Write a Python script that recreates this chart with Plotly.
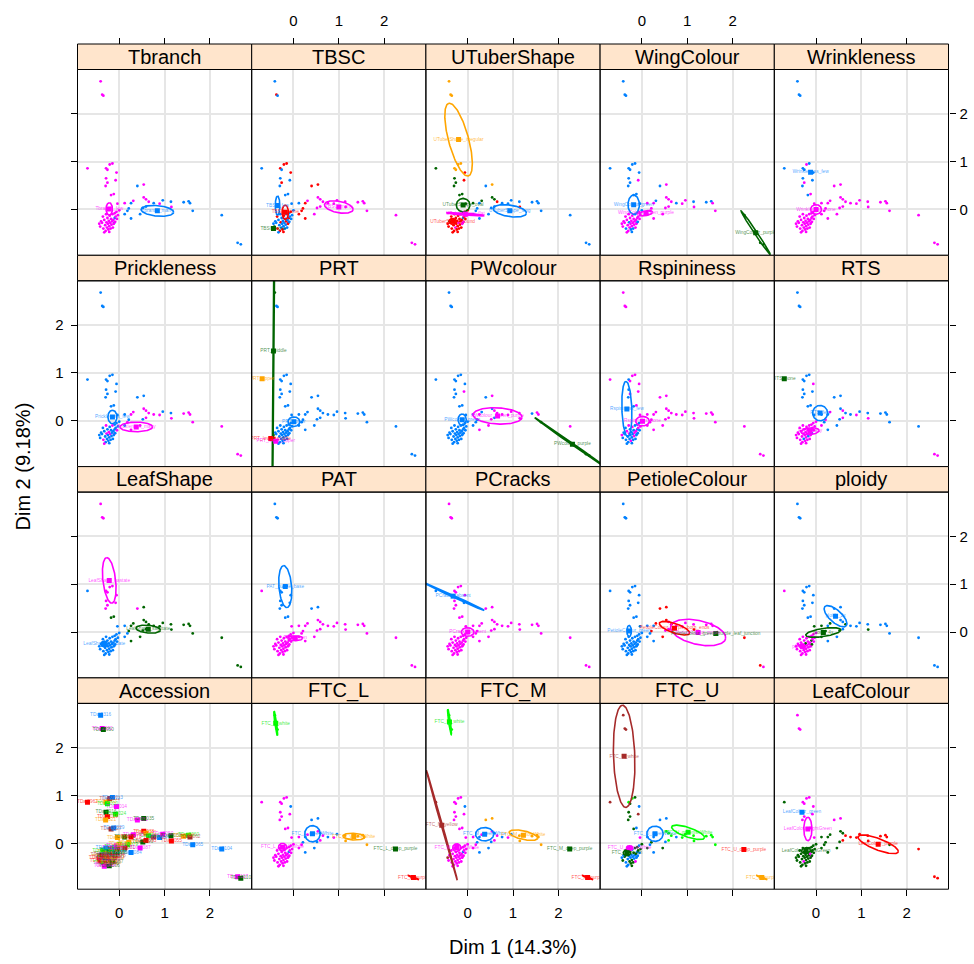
import numpy as np
import plotly.graph_objects as go

W, H = 974, 964

# ---------------- individuals (MCA coordinates, Dim 1 / Dim 2) ----------------
T_x = [-0.41, -0.375, -0.35]
T_y = [2.68, 2.40, 2.38]
L_x = [-0.70, -0.29, -0.26, -0.21, -0.15, -0.06, -0.29, -0.26, -0.30, -0.08, -0.18, -0.12]
L_y = [0.86, 0.86, 0.83, 0.94, 0.96, 0.77, 0.65, 0.56, 0.49, 0.61, 0.30, 0.32]
M_x = [0.40, 0.54, 0.54, 0.59, 0.65, 0.76, 0.89, 0.96, 1.14, 1.15, 1.42, 1.53, 1.56, 1.62,
       0.31, 0.12, 0.26, 0.21, 0.18, 0.12, 0.26, 0.46, 0.52, 0.59, -0.04, -0.10, -0.11]
M_y = [0.49, 0.52, 0.25, 0.21, 0.16, 0.13, 0.12, 0.19, 0.16, 0.05, 0.15, 0.17, 0.13, -0.03,
       0.18, 0.13, 0.13, 0.02, -0.03, -0.10, -0.19, -0.10, 0.03, 0.06, 0.12, -0.18, -0.28]
R_x = [2.26, 2.61, 2.68]
R_y = [-0.12, -0.70, -0.73]
C_x = [-0.42, -0.38, -0.35, -0.33, -0.31, -0.30, -0.28, -0.27, -0.26, -0.25, -0.24, -0.23,
       -0.22, -0.21, -0.20, -0.19, -0.18, -0.17, -0.16, -0.15, -0.14, -0.13, -0.12, -0.10,
       -0.09, -0.08, -0.06, -0.05, -0.03, 0.00, -0.36, -0.40, -0.29, -0.33, -0.22, -0.44]
C_y = [-0.36, -0.28, -0.40, -0.22, -0.33, -0.45, -0.27, -0.38, -0.18, -0.30, -0.42, -0.24,
       -0.35, -0.13, -0.28, -0.40, -0.20, -0.32, -0.25, -0.10, -0.38, -0.22, -0.30, -0.08,
       -0.26, -0.15, -0.05, -0.20, -0.12, -0.02, -0.15, -0.25, -0.10, -0.48, -0.47, -0.30]

ind_x = T_x + L_x + M_x + R_x + C_x
ind_y = T_y + L_y + M_y + R_y + C_y
N = len(ind_x)

acc_num = [1316, 2952, 2950, 2962, 3002, 3010, 3012, 3013, 3014, 3016, 3019, 3021, 3024, 3027,
           3029, 3031, 3035, 3038, 3040, 3043, 3045, 3047, 3050, 3052, 3055, 3058, 3060, 3062,
           3065, 3068, 3070, 3073, 3076, 3079, 3081, 3084, 3087, 3090, 3093, 3095, 3098, 3101,
           3104, 3107, 3110, 3112, 3115, 3118, 3120, 3123, 3126, 3129, 3131, 3134, 3137, 3140,
           3142, 3145, 3148, 3150, 3153, 3156, 3159, 3161, 3164, 3167, 3170, 3172, 3175, 3178,
           3181, 3183, 3186, 3189, 3192, 3194, 3197, 3200, 3203, 3206, 3209, 3212, 3215]

palette = ["#0080FF", "#FF00FF", "#006400", "#FF0000", "#FFA500", "#00FF00", "#A52A2A"]
palette_faded = ["rgba(0,128,255,0.7)", "rgba(255,0,255,0.7)", "rgba(0,100,0,0.7)",
                 "rgba(255,0,0,0.7)", "rgba(255,165,0,0.75)", "rgba(0,230,0,0.75)",
                 "rgba(165,42,42,0.7)"]

# category code of each individual (groups: T L M R C), digit = level index
Tbranch_codes = "111 111111111111 011110100100001100000000100 000 111111 111111 111111 111111 111111 111111"
TBSC_codes = "030 030333030000 331111111111111033333111030 111 203003 300030 030000 300030 003000 300030"
UTuberShape_codes = "444 244443222322 042230000300002200000000203 000 333133 313333 331333 333313 133333 323333"
WingColour_codes = "000 000000000100 011110110100110111111111010 222 110111 011101 111011 101111 011110 111101"
Wrinkleness_codes = "000 000100010001 111111111111111111111111111 111 111111 111111 111111 111111 111111 111111"
Prickleness_codes = "000 000000000000 001111100111111010101101001 111 001000 100001 001000 010000 000100 001100"
PRT_codes = "200 400000000000 000000000000000000000000000 000 301000 000000 000000 000000 000000 000002"
PWcolour_codes = "000 000000000100 010111111101120010001110000 122 000000 000000 000000 000000 000000 000000"
Rspininess_codes = "111 101111010101 111111111111111111111111100 111 000100 100010 010001 100100 010010 001001"
RTS_codes = "000 200001000000 000100100100001001010001011 011 111111 101111 111110 111111 011111 111111"
LeafShape_codes = "111 011111111122 122222222222222022002222000 222 000000 000000 000000 000000 000000 000000"
PAT_codes = "000 100000000000 001111111111111111111111111 111 111111 111111 111111 111111 111111 111111"
PCracks_codes = "111 011111111011 111111111111111111111111111 111 111111 111111 111111 111111 111111 111111"
PetioleColour_codes = "000 000000000000 333131111311123003000311000 331 000000 000000 000000 000000 000000 000000"
ploidy_codes = "000 100000000000 000020000200002202220020221 000 111111 111112 111111 111111 211111 111111"
FTC_L_codes = "555 111110111111 001010104444441100110001101 233 111111 111111 111111 111111 111111 111111"
FTC_M_codes = "555 611110111111 441010104444441100110001101 233 111111 111111 111111 111111 111111 111116"
FTC_U_codes = "666 652520222620 005550555555552002020205100 344 220200 022020 200220 021202 020022 202020"
LeafColour_codes = "111 211111011111 112233333333322222222223121 333 222222 212222 222222 222122 222222 222222"

# levels: (label, centroid x, centroid y, semi-axis a, semi-axis b, angle deg); index = colour
Tbranch_levels = [("Tbranch_many", 0.84, -0.03, 0.36, 0.11, -5),
                  ("Tbranch_few", -0.22, 0.01, 0.13, 0.07, 90)]
TBSC_levels = [("TBSC_few", -0.35, 0.08, 0.20, 0.05, 90),
               ("TBSC_many", 1.00, 0.05, 0.32, 0.12, -10),
               ("TBSC_none", -0.44, -0.40, 0, 0, 0),
               ("TBSC_some", -0.18, -0.06, 0.15, 0.07, 90)]
UTuberShape_levels = [("UTuberShape_long", 0.93, -0.03, 0.37, 0.12, -8),
                      ("UTuberShape_flat", -0.05, -0.10, 0.42, 0.02, -4),
                      ("UTuberShape_oval", -0.10, 0.09, 0.15, 0.14, 0),
                      ("UTuberShape_round", -0.33, -0.25, 0.08, 0.06, 0),
                      ("UTuberShape_irregular", -0.20, 1.46, 0.79, 0.22, 106)]
WingColour_levels = [("WingColour_green", -0.18, 0.10, 0.20, 0.125, 90),
                     ("WingColour_green_purple", 0.09, -0.08, 0.15, 0.05, 10),
                     ("WingColour_purple", 2.51, -0.49, 0.56, 0.03, -55)]
Wrinkleness_levels = [("Wrinkleness_few", -0.12, 0.78, 0, 0, 0),
                      ("Wrinkleness_none", 0.00, 0.00, 0.12, 0.10, 0)]
Prickleness_levels = [("Prickleness_few", -0.15, 0.08, 0.14, 0.10, 90),
                      ("Prickleness_many", 0.375, -0.13, 0.36, 0.10, 0)]
PRT_levels = [("PRT_lower", 0.01, -0.02, 0.13, 0.10, 0),
              ("PRT_lower_upper", -0.39, -0.43, 0, 0, 0),
              ("PRT_middle", -0.44, 1.46, 3.2, 0.012, 89.5),
              ("PRT_lower_middle", -0.50, -0.37, 0, 0, 0),
              ("PRT_upper", -0.69, 0.88, 0, 0, 0)]
PWcolour_levels = [("PWcolour_green", -0.12, 0.02, 0.12, 0.09, 90),
                   ("PWcolour_Green_purple", 0.66, 0.10, 0.54, 0.17, -3),
                   ("PWcolour_purple", 2.31, -0.49, 1.0, 0.02, -33.7)]
Rspininess_levels = [("Rspininess_few", -0.33, 0.245, 0.58, 0.11, 92),
                     ("Rspininess_none", 0.015, -0.01, 0.15, 0.10, 0)]
RTS_levels = [("RTS_few", 0.09, 0.16, 0.165, 0.16, 0),
              ("RTS_many", -0.13, -0.22, 0.20, 0.07, 5),
              ("RTS_none", -0.70, 0.88, 0, 0, 0)]
LeafShape_levels = [("LeafShape_cordate", -0.33, -0.25, 0.07, 0.06, 0),
                    ("LeafShape_hastate", -0.22, 1.08, 0.48, 0.14, 97),
                    ("LeafShape_sagittate", 0.64, 0.06, 0.27, 0.08, -5)]
PAT_levels = [("PAT_purple_base", -0.18, 0.95, 0.44, 0.14, 95),
              ("PAT_green", 0.04, -0.13, 0.165, 0.05, 0)]
PCracks_levels = [("PCracks_absent", -0.32, 0.75, 0.75, 0.02, -23.5),
                  ("PCracks_present", 0.00, 0.00, 0.14, 0.09, 0)]
PetioleColour_levels = [("PetioleColour_green", -0.28, 0.02, 0.12, 0.05, 90),
                        ("PetioleColour_purple", 1.24, -0.01, 0.62, 0.25, -12),
                        ("PetioleColour_green_purple_leaf_junction", 1.63, -0.03, 0, 0, 0),
                        ("PetioleColour_purple_both_ends", 0.72, 0.08, 0.35, 0.10, -18)]
ploidy_levels = [("ploidy_2x", 0.43, 0.33, 0.31, 0.13, -40),
                 ("ploidy_3x", -0.30, -0.30, 0.06, 0.05, 0),
                 ("ploidy_4x", 0.16, -0.01, 0.39, 0.085, 8)]
FTC_L_levels = [("FTC_L_greenWhite", 0.42, 0.20, 0.17, 0.17, 0),
                ("FTC_L_purpleWhite", -0.24, -0.08, 0.09, 0.08, 0),
                ("FTC_L_deep_purple", 2.25, -0.12, 0, 0, 0),
                ("FTC_L_purple", 2.645, -0.715, 0.13, 0.01, -21),
                ("FTC_L_yellowWhite", 1.33, 0.14, 0.24, 0.07, -3),
                ("FTC_L_white", -0.39, 2.51, 0.26, 0.02, 98)]
FTC_M_levels = [("FTC_M_greenWhite", 0.375, 0.19, 0.20, 0.14, 0),
                ("FTC_M_purpleWhite", -0.24, -0.09, 0.09, 0.08, 0),
                ("FTC_M_deep_purple", 2.25, -0.12, 0, 0, 0),
                ("FTC_M_purple", 2.645, -0.715, 0.13, 0.01, -21),
                ("FTC_M_yellowWhite", 1.23, 0.17, 0.32, 0.09, -12),
                ("FTC_M_white", -0.40, 2.54, 0.27, 0.02, 98),
                ("FTC_M_yellow", -0.57, 0.38, 1.2, 0.015, 106.5)]
FTC_U_levels = [("FTC_U_greenWhite", 0.29, 0.20, 0.18, 0.16, 0),
                ("FTC_U_purpleWhite", -0.27, -0.10, 0.07, 0.05, 0),
                ("FTC_U_green", -0.33, -0.20, 0.08, 0.06, 0),
                ("FTC_U_deep_purple", 2.25, -0.13, 0, 0, 0),
                ("FTC_U_purple", 2.645, -0.715, 0.13, 0.01, -21),
                ("FTC_U_greenishWhite", 1.02, 0.23, 0.38, 0.10, -18),
                ("FTC_U_white", -0.39, 1.82, 1.07, 0.235, 92)]
LeafColour_levels = [("LeafColour_green", -0.31, 0.65, 0, 0, 0),
                     ("LeafColour_lightGreen", -0.18, 0.30, 0.245, 0.09, 90),
                     ("LeafColour_darkGreen", -0.22, -0.15, 0.10, 0.06, 10),
                     ("LeafColour_purple", 1.37, -0.02, 0.47, 0.12, -20)]

panel_names = ["Tbranch", "TBSC", "UTuberShape", "WingColour", "Wrinkleness",
               "Prickleness", "PRT", "PWcolour", "Rspininess", "RTS",
               "LeafShape", "PAT", "PCracks", "PetioleColour", "ploidy",
               "Accession", "FTC_L", "FTC_M", "FTC_U", "LeafColour"]

g = globals()

# ---------------- layout geometry ----------------
col_edges = [77.5, 251.7, 425.9, 600.1, 774.3, 948.5]
row_top0, row_h, strip_h = 44.0, 211.3, 25.5
XR = [-0.92, 2.92]
YR = [-0.96, 2.927]
FONT = "Liberation Sans, Arial, Helvetica, sans-serif"
GRID = "#E6E6E6"
LABEL_SIZE = 4.8

fig = go.Figure()
layout = dict(width=W, height=H, margin=dict(l=0, r=0, t=0, b=0),
              paper_bgcolor="white", plot_bgcolor="white", showlegend=False,
              font=dict(family=FONT, color="black"))
shapes, annotations = [], []
tt = np.linspace(0, 2 * np.pi, 160)

for k, name in enumerate(panel_names):
    r, c = divmod(k, 5)
    n = k + 1
    xa = "x" if n == 1 else f"x{n}"
    ya = "y" if n == 1 else f"y{n}"
    st = row_top0 + r * row_h
    pt = st + strip_h
    pb = st + row_h
    ph = pb - pt

    xax = dict(domain=[col_edges[c] / W, col_edges[c + 1] / W], range=XR, anchor=ya,
               tickvals=[0, 1, 2], showgrid=True, gridcolor=GRID, gridwidth=1.5,
               zeroline=False, showline=False, ticks="", showticklabels=False,
               tickfont=dict(size=15, family=FONT), fixedrange=True)
    if r == 3:
        xax.update(side="bottom", ticks="outside", ticklen=6, tickcolor="black",
                   showticklabels=(c % 2 == 0), ticklabelstandoff=4)
    if r == 0:
        xax.update(side="top", anchor="free", position=1 - st / H, ticks="outside",
                   ticklen=6, tickcolor="black", showticklabels=(c % 2 == 1),
                   ticklabelstandoff=6)
    yax = dict(domain=[1 - pb / H, 1 - pt / H], range=YR, anchor=xa,
               tickvals=[0, 1, 2], showgrid=True, gridcolor=GRID, gridwidth=1.5,
               zeroline=False, showline=False, ticks="", showticklabels=False,
               tickfont=dict(size=15, family=FONT), fixedrange=True)
    if c == 0:
        yax.update(side="left", ticks="outside", ticklen=6, tickcolor="black",
                   showticklabels=(r % 2 == 1), ticklabelstandoff=4)
    if c == 4:
        yax.update(side="right", ticks="outside", ticklen=6, tickcolor="black",
                   showticklabels=(r % 2 == 0), ticklabelstandoff=1)
    layout["xaxis" if n == 1 else f"xaxis{n}"] = xax
    layout["yaxis" if n == 1 else f"yaxis{n}"] = yax

    # strip and panel border
    shapes.append(dict(type="rect", xref=f"{xa} domain", yref=f"{ya} domain",
                       x0=0, x1=1, y0=1, y1=1 + strip_h / ph, fillcolor="#FFE5CC",
                       line=dict(color="black", width=1), layer="above"))
    shapes.append(dict(type="rect", xref=f"{xa} domain", yref=f"{ya} domain",
                       x0=0, x1=1, y0=0, y1=1, line=dict(color="black", width=1),
                       layer="above"))
    annotations.append(dict(text=name, xref=f"{xa} domain", yref=f"{ya} domain",
                            x=0.5, y=1 + strip_h / 2 / ph, xanchor="center", yanchor="middle",
                            showarrow=False, font=dict(size=20, family=FONT, color="black")))

    if name == "Accession":
        cols = [palette[i % 7] for i in range(N)]
        tcols = [palette_faded[i % 7] for i in range(N)]
        fig.add_trace(go.Scatter(x=ind_x, y=ind_y, mode="markers",
                                 marker=dict(size=2.8, color=cols), xaxis=xa, yaxis=ya,
                                 hoverinfo="skip"))
        fig.add_trace(go.Scatter(x=ind_x, y=ind_y, mode="markers+text",
                                 text=["TDa " + str(v) for v in acc_num[:N]],
                                 textposition="middle center",
                                 textfont=dict(size=LABEL_SIZE, color=tcols, family=FONT),
                                 marker=dict(symbol="square", size=5, color=cols),
                                 xaxis=xa, yaxis=ya, hoverinfo="skip"))
        continue

    codes = g[name + "_codes"].replace(" ", "")
    levels = g[name + "_levels"]
    pcol = [palette[int(ch)] for ch in codes[:N]]
    fig.add_trace(go.Scatter(x=ind_x[:len(pcol)], y=ind_y[:len(pcol)], mode="markers",
                             marker=dict(size=2.8, color=pcol), xaxis=xa, yaxis=ya,
                             hoverinfo="skip"))
    for i, (lab, cx, cy, a, b, ang) in enumerate(levels):
        if a <= 0:
            continue
        th = np.deg2rad(ang)
        ex = cx + a * np.cos(th) * np.cos(tt) - b * np.sin(th) * np.sin(tt)
        ey = cy + a * np.sin(th) * np.cos(tt) + b * np.cos(th) * np.sin(tt)
        fig.add_trace(go.Scatter(x=ex, y=ey, mode="lines",
                                 line=dict(color=palette[i], width=1.6),
                                 xaxis=xa, yaxis=ya, hoverinfo="skip"))
    lcol = [palette[i] for i in range(len(levels))]
    tcol = [palette_faded[i] for i in range(len(levels))]
    fig.add_trace(go.Scatter(x=[lv[1] for lv in levels], y=[lv[2] for lv in levels],
                             mode="markers+text", text=[lv[0] for lv in levels],
                             textposition="middle center",
                             textfont=dict(size=LABEL_SIZE, color=tcol, family=FONT),
                             marker=dict(symbol="square", size=5, color=lcol),
                             xaxis=xa, yaxis=ya, hoverinfo="skip"))

annotations.append(dict(text="Dim 1 (14.3%)", xref="paper", yref="paper",
                        x=(col_edges[0] + col_edges[-1]) / 2 / W, y=1 - 947 / H,
                        xanchor="center", yanchor="middle", showarrow=False,
                        font=dict(size=20, family=FONT)))
annotations.append(dict(text="Dim 2 (9.18%)", xref="paper", yref="paper",
                        x=22 / W, y=1 - 466.5 / H, textangle=-90,
                        xanchor="center", yanchor="middle", showarrow=False,
                        font=dict(size=20, family=FONT)))
layout["shapes"] = shapes
layout["annotations"] = annotations
fig.update_layout(**layout)
fig.write_html("out.html")
